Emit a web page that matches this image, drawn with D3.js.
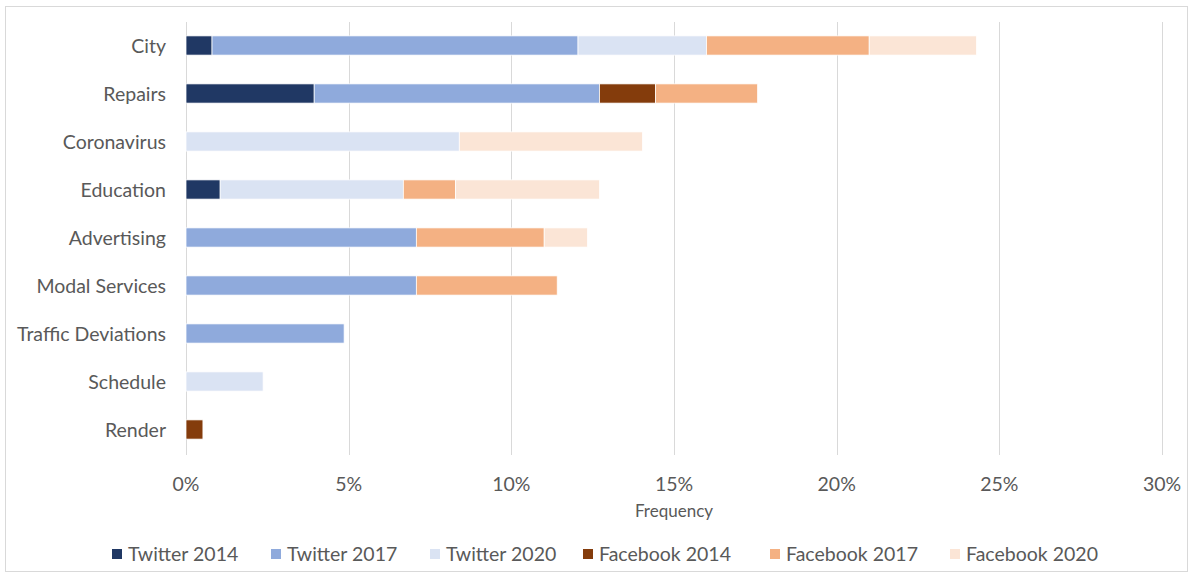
<!DOCTYPE html>
<html>
<head>
<meta charset="utf-8">
<script src="https://cdn.jsdelivr.net/npm/d3@7/dist/d3.min.js"></script>
<style>
body { margin: 0; background: #fff; }
text { font-family: Lato, "Open Sans", sans-serif; fill: #595959; }
</style>
</head>
<body>
<div id="container"></div>
<script>
// categories top to bottom
var categories = ["City", "Repairs", "Coronavirus", "Education", "Advertising",
    "Modal Services", "Traffic Deviations", "Schedule", "Render"];

var seriesNames = ["Twitter 2014", "Twitter 2017", "Twitter 2020",
    "Facebook 2014", "Facebook 2017", "Facebook 2020"];

var seriesColors = ["#203864", "#8faadc", "#dae3f3", "#843c0c", "#f4b183", "#fbe5d6"];

// values in % per series, same order as categories
var twitter2014  = [0.80, 3.94, 0,    1.05, 0,    0,    0,    0,    0];
var twitter2017  = [11.25, 8.77, 0,   0,    7.08, 7.08, 4.86, 0,    0];
var twitter2020  = [3.95, 0,    8.40, 5.63, 0,    0,    0,    2.37, 0];
var facebook2014 = [0,    1.72, 0,    0,    0,    0,    0,    0,    0.52];
var facebook2017 = [5.00, 3.14, 0,    1.60, 3.93, 4.33, 0,    0,    0];
var facebook2020 = [3.30, 0,    5.63, 4.43, 1.33, 0,    0,    0,    0];

var xTicks = [0, 5, 10, 15, 20, 25, 30];

var seriesValues = [twitter2014, twitter2017, twitter2020, facebook2014, facebook2017, facebook2020];

var width = 1192, height = 576;
var margin = {left: 186, right: 30, top: 21.5, bottom: 122.5};
var fontSize = "19.5px";

var svg = d3.select("#container").append("svg")
    .attr("width", width)
    .attr("height", height);

// outer chart border
svg.append("rect")
    .attr("x", 5.5).attr("y", 6.5)
    .attr("width", width - 10).attr("height", height - 11)
    .attr("fill", "none")
    .attr("stroke", "#d9d9d9")
    .attr("stroke-width", 1);

var x = d3.scaleLinear().domain([0, 30]).range([margin.left, 1162]);
var y = d3.scaleBand().domain(categories)
    .range([margin.top, height - margin.bottom])
    .paddingInner(0.6).paddingOuter(0.3);

// gridlines
svg.append("g")
    .selectAll("line")
    .data(xTicks)
    .enter()
    .append("line")
    .attr("x1", function(d) { return Math.round(x(d)) + 0.5; })
    .attr("x2", function(d) { return Math.round(x(d)) + 0.5; })
    .attr("y1", 22)
    .attr("y2", 455)
    .attr("stroke", "#d9d9d9")
    .attr("stroke-width", 1);

// stacked data
var rows = categories.map(function(c, i) {
    var r = {cat: c};
    seriesNames.forEach(function(s, j) { r[s] = seriesValues[j][i]; });
    return r;
});
var stacked = d3.stack().keys(seriesNames)(rows);

svg.append("g")
    .selectAll("g")
    .data(stacked)
    .enter()
    .append("g")
    .attr("fill", function(d, i) { return seriesColors[i]; })
    .selectAll("rect")
    .data(function(d) { return d.filter(function(p) { return p[1] > p[0]; }); })
    .enter()
    .append("rect")
    .attr("x", function(d) { return x(d[0]); })
    .attr("width", function(d) { return x(d[1]) - x(d[0]); })
    .attr("y", function(d) { return y(d.data.cat); })
    .attr("height", y.bandwidth())
    .attr("stroke", "#ffffff")
    .attr("stroke-width", 0.75);

// category labels
svg.append("g")
    .selectAll("text")
    .data(categories)
    .enter()
    .append("text")
    .attr("x", 166)
    .attr("y", function(d) { return y(d) + y.bandwidth() / 2 + 1; })
    .attr("dy", "0.35em")
    .attr("text-anchor", "end")
    .attr("font-size", fontSize)
    .text(function(d) { return d; });

// x tick labels
svg.append("g")
    .selectAll("text")
    .data(xTicks)
    .enter()
    .append("text")
    .attr("x", function(d) { return x(d); })
    .attr("y", 484)
    .attr("dy", "0.35em")
    .attr("text-anchor", "middle")
    .attr("font-size", fontSize)
    .text(function(d) { return d + "%"; });

svg.append("text")
    .attr("x", x(15))
    .attr("y", 511)
    .attr("dy", "0.35em")
    .attr("text-anchor", "middle")
    .attr("font-size", "17px")
    .text("Frequency");

// legend
var legendX = [112, 271, 430, 583, 770, 950];
var lg = svg.append("g")
    .selectAll("g")
    .data(seriesNames)
    .enter()
    .append("g")
    .attr("transform", function(d, i) { return "translate(" + legendX[i] + ",554)"; });

lg.append("rect")
    .attr("x", 0).attr("y", -5)
    .attr("width", 10).attr("height", 10)
    .attr("fill", function(d, i) { return seriesColors[i]; });

lg.append("text")
    .attr("x", 16)
    .attr("y", 0)
    .attr("dy", "0.35em")
    .attr("font-size", fontSize)
    .text(function(d) { return d; });
</script>
</body>
</html>
